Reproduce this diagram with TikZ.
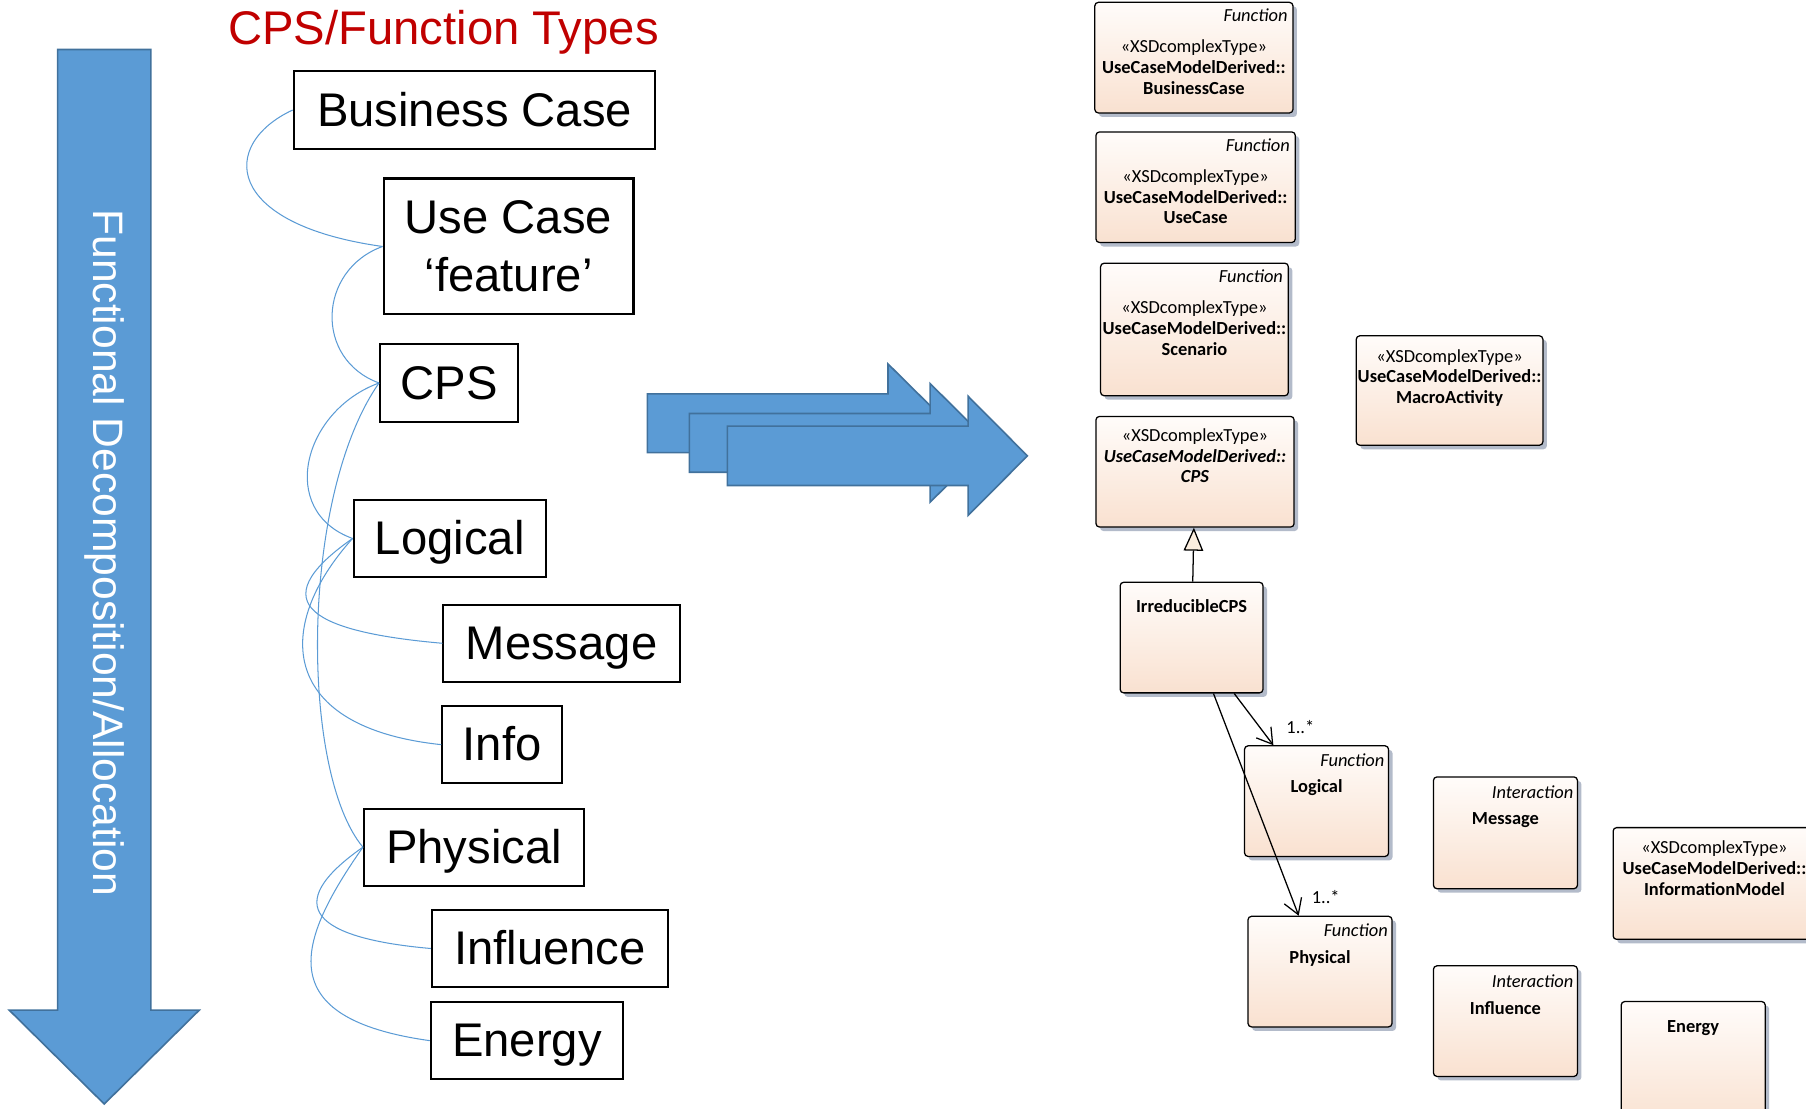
\documentclass[tikz,border=0pt]{standalone}
\usepackage{fontspec}
\setmainfont{Liberation Sans}
\newfontfamily\umlfont{Carlito}
\usetikzlibrary{arrows.meta,positioning,shadows}

\definecolor{flowblue}{HTML}{5B9BD5}
\definecolor{flowedge}{HTML}{41719C}
\definecolor{titlered}{HTML}{C00000}
\definecolor{umltop}{HTML}{FFFCFA}
\definecolor{umlbottom}{HTML}{F9E1D0}
\definecolor{umlshadow}{HTML}{B3BBCA}
\definecolor{gencream}{HTML}{FBEEDF}

\begin{document}
\begin{tikzpicture}[x=1pt,y=-1pt,
  typebox/.style={draw,line width=1.8pt,inner sep=0pt,minimum height=67pt,
    font=\fontsize{41}{50}\selectfont},
  onebox/.style={typebox,text height=37pt,text depth=8.7pt},
  link/.style={draw=flowblue,line width=0.9pt},
  bigarrow/.style={fill=flowblue,draw=flowedge,line width=1.4pt,line join=miter},
  umlbox/.style={draw,line width=1.1pt,rounded corners=3pt,inner sep=0pt,
    top color=umltop,bottom color=umlbottom,anchor=north west,
    drop shadow={shadow xshift=3.5pt,shadow yshift=-3.5pt,fill=umlshadow,opacity=1}},
  umltext/.style={font=\umlfont\fontsize{16}{18}\selectfont,align=center,
    inner sep=0pt,anchor=north},
  kind/.style={font=\umlfont\itshape\fontsize{16}{18}\selectfont,
    inner sep=0pt,anchor=north east},
  assoc/.style={line width=1.1pt,-{Straight Barb[length=13pt,width=16pt]}}]
  \clip (0,0) rectangle (1568,962);

  % decomposition arrow on the left
  \draw[bigarrow] (50,43) -- (131,43) -- (131,877) -- (173,877) -- (90.5,958.5)
    -- (8,877) -- (50,877) -- cycle;
  \node[rotate=-90,text=white,font=\fontsize{37}{44}\selectfont] (flow) at (90.5,480)
    {Functional Decomposition/Allocation};

  % type hierarchy
  \node[anchor=base,text=titlered,font=\fontsize{41}{50}\selectfont] (title) at (385,39)
    {CPS/Function Types};
  \node[onebox,minimum width=314pt] (bc) at (412,95.5) {Business Case};
  \node[typebox,minimum width=217pt,minimum height=118pt,align=center] (uc) at (441.5,214)
    {Use Case\\‘feature’};
  \node[onebox,minimum width=120pt] (cps) at (390,332.5) {CPS};
  \node[onebox,minimum width=167pt] (log) at (390.5,467.5) {Logical};
  \node[onebox,minimum width=205pt] (msg) at (487.5,558.5) {Message};
  \node[onebox,minimum width=104pt] (info) at (436,646.5) {Info};
  \node[onebox,minimum width=191pt] (phys) at (411.5,735.5) {Physical};
  \node[onebox,minimum width=205pt] (infl) at (477.5,823.5) {Influence};
  \node[onebox,minimum width=167pt] (en) at (457.5,903.5) {Energy};

  \draw[link] (bc.west) to[out=205,in=172,out distance=70,in distance=140] (uc.west);
  \draw[link] (uc.west) to[out=200,in=160,out distance=60,in distance=60] (cps.west);
  \draw[link] (cps.west) to[out=200,in=160,out distance=70,in distance=70] (log.west);
  \draw[link] (cps.west) to[out=235,in=130,out distance=120,in distance=85] (phys.west);
  \draw[link] (log.west) to[out=215,in=175,out distance=100,in distance=110] (msg.west);
  \draw[link] (log.west) to[out=228,in=174,out distance=105,in distance=140] (info.west);
  \draw[link] (phys.west) to[out=215,in=175,out distance=90,in distance=100] (infl.west);
  \draw[link] (phys.west) to[out=235,in=172,out distance=100,in distance=140] (en.west);

  % mapping arrows
  \draw[bigarrow] (562,342) -- (771,342) -- (771,316) -- (823,367.5) -- (771,419)
    -- (771,393) -- (562,393) -- cycle;
  \draw[bigarrow] (598.5,359) -- (807.5,359) -- (807.5,333) -- (859.5,384.6)
    -- (807.5,436) -- (807.5,410) -- (598.5,410) -- cycle;
  \draw[bigarrow] (631.5,370) -- (840.5,370) -- (840.5,344) -- (892,395.8)
    -- (840.5,447.5) -- (840.5,421.5) -- (631.5,421.5) -- cycle;

  % model classes
  \node[umlbox,minimum width=172pt,minimum height=96pt] (bcase) at (950,1.5) {};
  \node[kind] (bcase-k) at ([xshift=-5pt,yshift=-6pt]bcase.north east) {Function};
  \node[umltext] (bcase-t) at ([yshift=-33pt]bcase.north)
    {«XSDcomplexType»\\\textbf{UseCaseModelDerived::}\\\textbf{BusinessCase}};

  \node[umlbox,minimum width=173pt,minimum height=96pt] (ucase) at (951,114) {};
  \node[kind] (ucase-k) at ([xshift=-5pt,yshift=-6pt]ucase.north east) {Function};
  \node[umltext] (ucase-t) at ([yshift=-33pt]ucase.north)
    {«XSDcomplexType»\\\textbf{UseCaseModelDerived::}\\\textbf{UseCase}};

  \node[umlbox,minimum width=163pt,minimum height=115pt] (scen) at (955,228) {};
  \node[kind] (scen-k) at ([xshift=-5pt,yshift=-6pt]scen.north east) {Function};
  \node[umltext] (scen-t) at ([yshift=-33pt]scen.north)
    {«XSDcomplexType»\\\textbf{UseCaseModelDerived::}\\\textbf{Scenario}};

  \node[umlbox,minimum width=172pt,minimum height=96pt] (cpsm) at (951,361) {};
  \node[umltext] (cpsm-t) at ([yshift=-11pt]cpsm.north)
    {«XSDcomplexType»\\\textbf{\textit{UseCaseModelDerived::}}\\\textbf{\textit{CPS}}};

  \node[umlbox,minimum width=162pt,minimum height=95pt] (macro) at (1177,291) {};
  \node[umltext] (macro-t) at ([yshift=-12pt]macro.north)
    {«XSDcomplexType»\\\textbf{UseCaseModelDerived::}\\\textbf{MacroActivity}};

  \node[umlbox,minimum width=124pt,minimum height=96pt] (irr) at (972,505) {};
  \node[umltext] (irr-t) at ([yshift=-15pt]irr.north) {\textbf{IrreducibleCPS}};

  \node[umlbox,minimum width=125pt,minimum height=96pt] (logm) at (1080,647) {};
  \node[kind] (logm-k) at ([xshift=-4pt,yshift=-7pt]logm.north east) {Function};
  \node[umltext] (logm-t) at ([yshift=-30pt]logm.north) {\textbf{Logical}};

  \node[umlbox,minimum width=125pt,minimum height=96pt] (physm) at (1083,795) {};
  \node[kind] (physm-k) at ([xshift=-4pt,yshift=-7pt]physm.north east) {Function};
  \node[umltext] (physm-t) at ([yshift=-30pt]physm.north) {\textbf{Physical}};

  \node[umlbox,minimum width=125pt,minimum height=97pt] (msgm) at (1244,674) {};
  \node[kind] (msgm-k) at ([xshift=-4pt,yshift=-8pt]msgm.north east) {Interaction};
  \node[umltext] (msgm-t) at ([yshift=-31pt]msgm.north) {\textbf{Message}};

  \node[umlbox,minimum width=125pt,minimum height=96pt] (inflm) at (1244,838) {};
  \node[kind] (inflm-k) at ([xshift=-4pt,yshift=-8pt]inflm.north east) {Interaction};
  \node[umltext] (inflm-t) at ([yshift=-31pt]inflm.north) {\textbf{Influence}};

  \node[umlbox,minimum width=176pt,minimum height=97pt] (infom) at (1400,718) {};
  \node[umltext] (infom-t) at ([yshift=-12pt]infom.north)
    {«XSDcomplexType»\\\textbf{UseCaseModelDerived::}\\\textbf{InformationModel}};

  \node[umlbox,minimum width=125pt,minimum height=110pt] (enm) at (1407,869) {};
  \node[umltext] (enm-t) at ([yshift=-17pt]enm.north) {\textbf{Energy}};

  % relations
  \draw[line width=1.1pt,-{Triangle[length=20pt,width=17pt,fill=gencream]}] (irr) -- (cpsm);
  \draw[assoc] ([xshift=37pt]irr.south) -- ([xshift=-37.5pt]logm.north);
  \draw[assoc] ([xshift=19pt]irr.south) -- ([xshift=-18.5pt]physm.north);
  \node[font=\umlfont\fontsize{16}{18}\selectfont,inner sep=0pt] (m1) at (1129,631) {1..*};
  \node[font=\umlfont\fontsize{16}{18}\selectfont,inner sep=0pt] (m2) at (1151,779) {1..*};
\end{tikzpicture}
\end{document}
